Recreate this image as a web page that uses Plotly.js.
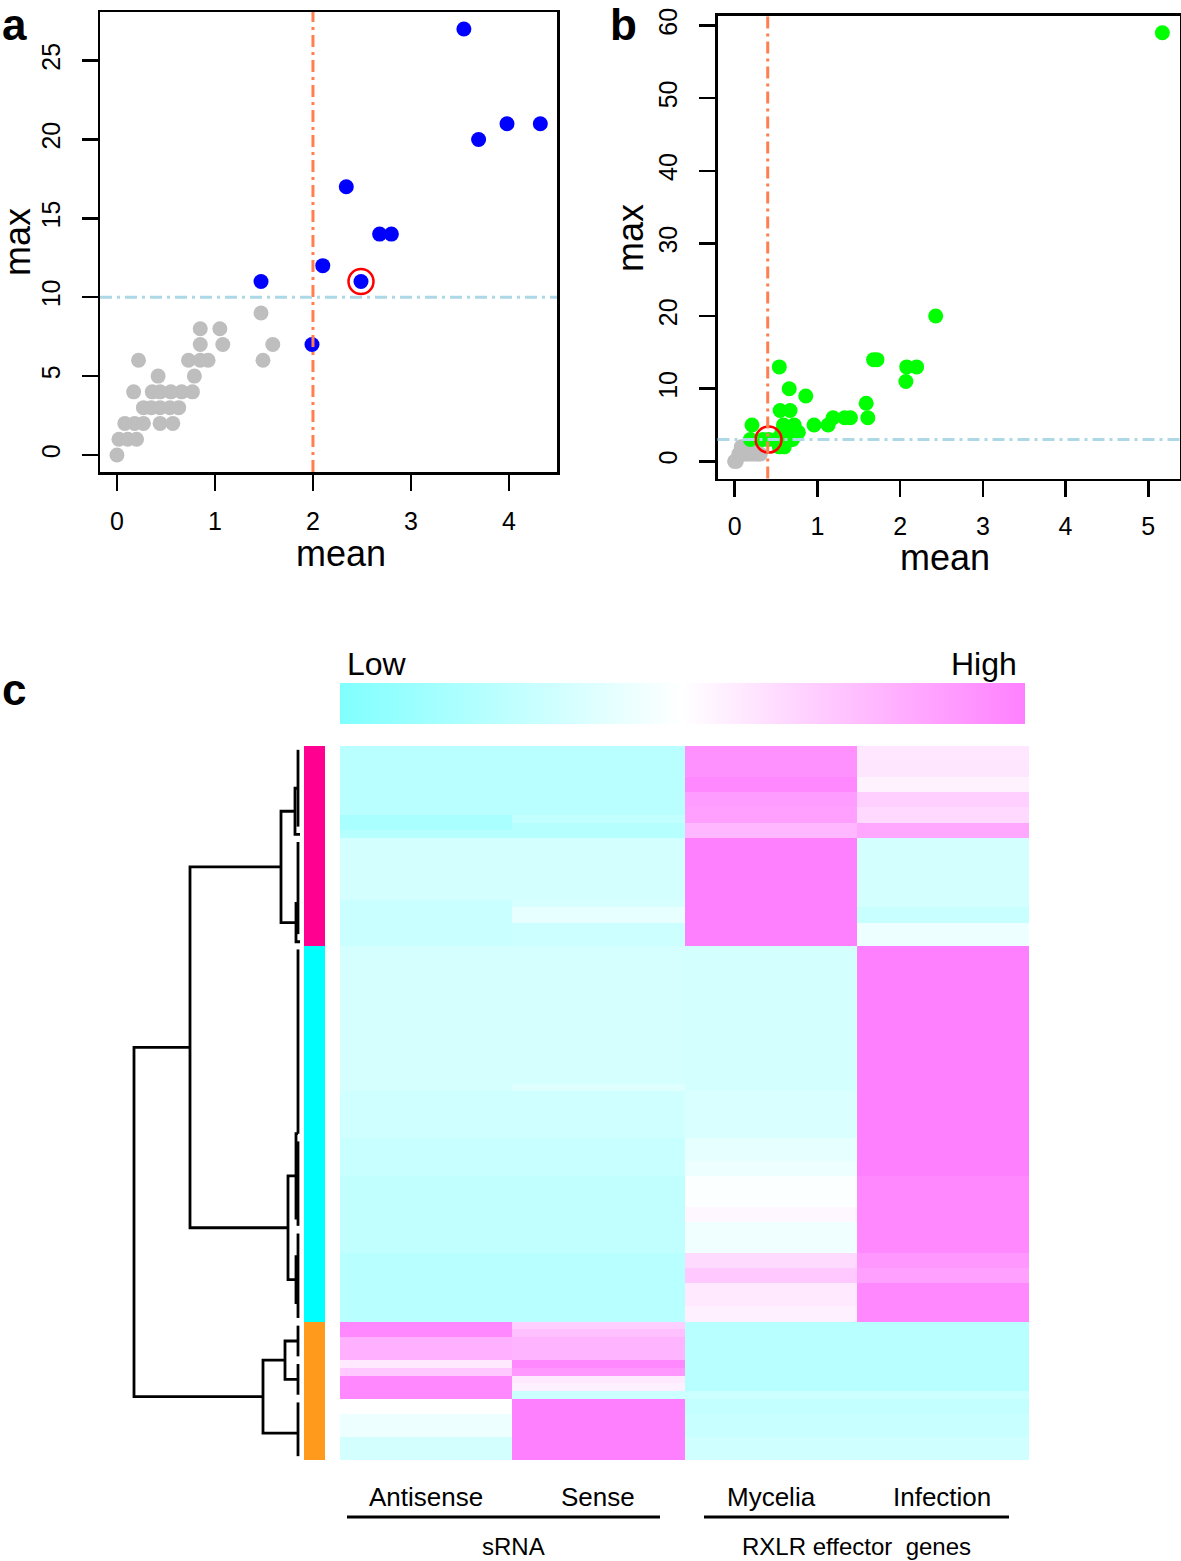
<!DOCTYPE html>
<html>
<head>
<meta charset="utf-8">
<script src="https://cdn.plot.ly/plotly-3.0.1.min.js"></script>
<style>
  body { margin: 0; background: #fff; }
  #chart { width: 1181px; height: 1561px; }
</style>
</head>
<body>
<div id="chart"></div>
<script>
// ---- panel a: sRNA loci (mean vs max) ----
var grayA_mean = [0, 0.02, 0.11, 0.20, 0.08, 0.18, 0.27, 0.44, 0.57, 0.27, 0.35, 0.44, 0.54, 0.63,
    0.17, 0.36, 0.44, 0.55, 0.66, 0.77, 0.42, 0.79, 0.22, 0.73, 0.85, 0.93, 1.49, 0.85, 1.08, 1.59,
    0.85, 1.05, 1.47];
var grayA_max = [0, 1, 1, 1, 2, 2, 2, 2, 2, 3, 3, 3, 3, 3,
    4, 4, 4, 4, 4, 4, 5, 5, 6, 6, 6, 6, 6, 7, 7, 7,
    8, 8, 9];
var blueA_mean = [1.47, 1.99, 2.10, 2.34, 2.49, 2.68, 2.80, 3.54, 3.69, 3.98, 4.32];
var blueA_max = [11, 7, 12, 17, 11, 14, 14, 27, 20, 21, 21];
var markA_mean = [2.49];
var markA_max = [11];
var cutA_mean = 2;
var cutA_max = 10;

// ---- panel b ----
var greenB_mean = [0.21, 0.19, 0.34, 0.41, 0.50, 0.54, 0.60, 0.61, 0.68, 0.57, 0.64, 0.70, 0.59, 0.72,
    0.77, 0.55, 0.67, 0.54, 0.66, 0.86, 0.96, 1.13, 1.19, 1.33, 1.40, 1.59, 1.61, 1.68, 1.72,
    2.07, 2.08, 2.20, 2.43, 5.17];
var greenB_max = [5, 3, 3, 3, 3, 2, 2, 3, 4, 4, 3, 3, 5, 5,
    4, 7, 7, 13, 10, 9, 5, 5, 6, 6, 6, 8, 6, 14, 14,
    11, 13, 13, 20, 59];
var grayB_mean = [0, 0.02, 0.05, 0.09, 0.13, 0.17, 0.22, 0.27, 0.31, 0.08, 0.13, 0.19, 0.25];
var grayB_max = [0, 0, 1, 1, 1, 1, 1, 1, 1, 2, 2, 2, 2];
var markB_mean = [0.41];
var markB_max = [3];
var cutB_mean = 0.4;
var cutB_max = 3;

// ---- panel c: heatmap (93 rows, top to bottom) ----
var columns = ['Antisense', 'Sense', 'Mycelia', 'Infection'];
var antisense = [
    -0.55, -0.55, -0.55, -0.55, -0.55, -0.55, -0.55, -0.55, -0.55, -0.68,
    -0.68, -0.58, -0.34, -0.34, -0.34, -0.34, -0.34, -0.34, -0.34, -0.34,
    -0.42, -0.42, -0.42, -0.42, -0.42, -0.42, -0.33, -0.33, -0.33, -0.33,
    -0.33, -0.33, -0.33, -0.33, -0.33, -0.33, -0.33, -0.33, -0.33, -0.33,
    -0.33, -0.33, -0.33, -0.33, -0.33, -0.37, -0.37, -0.37, -0.37, -0.37,
    -0.37, -0.43, -0.43, -0.43, -0.43, -0.43, -0.49, -0.49, -0.49, -0.49,
    -0.49, -0.49, -0.49, -0.49, -0.49, -0.49, -0.56, -0.56, -0.56, -0.56,
    -0.56, -0.56, -0.56, -0.56, -0.56, 0.94, 0.94, 0.62, 0.62, 0.62,
    0.17, 0.43, 0.94, 0.94, 0.94, 0.00, 0.00, -0.13, -0.13, -0.13,
    -0.34, -0.34, -0.34];
var sense = [
    -0.55, -0.55, -0.55, -0.55, -0.55, -0.55, -0.55, -0.55, -0.55, -0.48,
    -0.58, -0.58, -0.34, -0.34, -0.34, -0.34, -0.34, -0.34, -0.34, -0.34,
    -0.31, -0.18, -0.18, -0.40, -0.40, -0.40, -0.33, -0.33, -0.33, -0.33,
    -0.33, -0.33, -0.33, -0.33, -0.33, -0.33, -0.33, -0.33, -0.33, -0.33,
    -0.33, -0.33, -0.33, -0.33, -0.25, -0.37, -0.37, -0.37, -0.37, -0.37,
    -0.37, -0.43, -0.43, -0.43, -0.43, -0.43, -0.49, -0.49, -0.49, -0.49,
    -0.49, -0.49, -0.49, -0.49, -0.49, -0.49, -0.56, -0.56, -0.56, -0.56,
    -0.56, -0.56, -0.56, -0.56, -0.56, 0.37, 0.50, 0.59, 0.59, 0.59,
    0.94, 0.82, 0.17, 0.12, -0.40, 1.00, 1.00, 1.00, 1.00, 1.00,
    1.00, 1.00, 1.00];
var mycelia = [
    0.87, 0.87, 0.87, 0.87, 0.94, 0.94, 0.78, 0.78, 0.75, 0.75,
    0.56, 0.56, 1.00, 1.00, 1.00, 1.00, 1.00, 1.00, 1.00, 1.00,
    1.00, 1.00, 1.00, 1.00, 1.00, 1.00, -0.34, -0.34, -0.34, -0.34,
    -0.34, -0.34, -0.34, -0.34, -0.34, -0.34, -0.34, -0.34, -0.34, -0.34,
    -0.34, -0.34, -0.34, -0.34, -0.34, -0.29, -0.29, -0.29, -0.29, -0.29,
    -0.29, -0.20, -0.20, -0.20, -0.13, -0.13, -0.02, -0.02, -0.02, -0.02,
    0.06, 0.06, -0.12, -0.12, -0.12, -0.12, 0.29, 0.29, 0.43, 0.43,
    0.17, 0.17, 0.17, 0.12, 0.12, -0.56, -0.56, -0.56, -0.56, -0.56,
    -0.56, -0.56, -0.56, -0.56, -0.40, -0.47, -0.47, -0.43, -0.43, -0.43,
    -0.37, -0.37, -0.37];
var infection = [
    0.18, 0.18, 0.20, 0.20, 0.10, 0.10, 0.37, 0.37, 0.30, 0.30,
    0.69, 0.69, -0.34, -0.34, -0.34, -0.34, -0.34, -0.34, -0.34, -0.34,
    -0.34, -0.43, -0.43, -0.13, -0.13, -0.13, 1.00, 1.00, 1.00, 1.00,
    1.00, 1.00, 1.00, 1.00, 1.00, 1.00, 1.00, 1.00, 1.00, 1.00,
    1.00, 1.00, 1.00, 1.00, 1.00, 1.00, 1.00, 1.00, 1.00, 1.00,
    1.00, 1.00, 1.00, 1.00, 1.00, 1.00, 0.94, 0.94, 0.94, 0.94,
    0.94, 0.94, 0.94, 0.94, 0.94, 0.94, 0.82, 0.82, 0.75, 0.75,
    0.94, 0.94, 0.94, 0.94, 0.94, -0.56, -0.56, -0.56, -0.56, -0.56,
    -0.56, -0.56, -0.56, -0.56, -0.40, -0.47, -0.47, -0.43, -0.43, -0.43,
    -0.37, -0.37, -0.37];

// row clusters (pink / cyan / orange), sizes in rows
var clusterSizes = [26, 49, 18];
var clusterColors = ['#FF0090', '#00FFFF', '#FF9A1C'];

// dendrogram: leaf groups [firstRow, lastRow] and merges [y1, y2, height, childH1, childH2]
var leafH = 0.2;
var leafGroups = [[0, 10], [12, 24], [26, 50], [51, 62], [63, 74], [75, 79], [80, 84], [85, 92]];
var dendroMerges = [
    [5, 11, 0.5, leafH, 0],
    [20, 25, 0.4, leafH, 0],
    [8, 22.5, 1.9, 0.5, 0.4],
    [50, 61, 0.4, leafH, leafH],
    [66, 72, 0.4, leafH, leafH],
    [55.5, 69, 1.2, 0.4, 0.4],
    [15.25, 62.25, 11, 1.9, 1.2],
    [77, 82, 1.5, leafH, leafH],
    [79.5, 89, 3.7, 1.5, leafH],
    [38.75, 84.25, 16.6, 11, 3.7]
];

var W = 1181, H = 1561;
function px(x) { return x / W; }
function py(y) { return 1 - y / H; }
var FONT = 'Liberation Sans, Arial, Helvetica, sans-serif';

// heatmap matrix and side strip
var zRows = antisense.map(function (v, i) { return [v, sense[i], mycelia[i], infection[i]]; });
var clusterRows = [];
clusterSizes.forEach(function (n, k) {
    for (var i = 0; i < n; i++) clusterRows.push([k]);
});

// dendrogram polyline
var dx = [], dy = [];
leafGroups.forEach(function (g) {
    dx.push(leafH, leafH, null);
    dy.push(g[0], g[1], null);
});
dendroMerges.forEach(function (m) {
    dx.push(m[3], m[2], m[2], m[4], null);
    dy.push(m[0], m[0], m[1], m[1], null);
});

var dotSize = 15;
var traces = [
    { x: grayA_mean, y: grayA_max, type: 'scatter', mode: 'markers', xaxis: 'x', yaxis: 'y',
      marker: { color: '#BEBEBE', size: dotSize }, hoverinfo: 'skip' },
    { x: blueA_mean, y: blueA_max, type: 'scatter', mode: 'markers', xaxis: 'x', yaxis: 'y',
      marker: { color: '#0000FF', size: dotSize }, hoverinfo: 'skip' },
    { x: markA_mean, y: markA_max, type: 'scatter', mode: 'markers', xaxis: 'x', yaxis: 'y',
      marker: { symbol: 'circle-open', color: '#FF0000', size: 25, line: { width: 2.5 } }, hoverinfo: 'skip' },

    { x: grayB_mean, y: grayB_max, type: 'scatter', mode: 'markers', xaxis: 'x2', yaxis: 'y2',
      marker: { color: '#BEBEBE', size: dotSize }, hoverinfo: 'skip' },
    { x: greenB_mean, y: greenB_max, type: 'scatter', mode: 'markers', xaxis: 'x2', yaxis: 'y2',
      marker: { color: '#00FF00', size: dotSize }, hoverinfo: 'skip' },
    { x: markB_mean, y: markB_max, type: 'scatter', mode: 'markers', xaxis: 'x2', yaxis: 'y2',
      marker: { symbol: 'circle-open', color: '#FF0000', size: 26, line: { width: 2.5 } }, hoverinfo: 'skip' },

    { z: zRows, type: 'heatmap', xaxis: 'x3', yaxis: 'y3', zmin: -1, zmax: 1,
      colorscale: [[0, '#80FFFF'], [0.5, '#FFFFFF'], [1, '#FF80FF']],
      showscale: true, hoverinfo: 'skip',
      colorbar: { orientation: 'h', x: px(340), xanchor: 'left', y: py(683), yanchor: 'top',
                  lenmode: 'pixels', len: 685, thicknessmode: 'pixels', thickness: 41,
                  xpad: 0, ypad: 0, outlinewidth: 0, ticks: '', showticklabels: false } },
    { z: clusterRows, type: 'heatmap', xaxis: 'x4', yaxis: 'y3', zmin: 0, zmax: 2, showscale: false,
      colorscale: [[0, clusterColors[0]], [0.333, clusterColors[0]], [0.334, clusterColors[1]],
                   [0.666, clusterColors[1]], [0.667, clusterColors[2]], [1, clusterColors[2]]],
      hoverinfo: 'skip' },
    { x: dx, y: dy, type: 'scatter', mode: 'lines', xaxis: 'x5', yaxis: 'y3',
      line: { color: '#000', width: 2.8 }, hoverinfo: 'skip' }
];

function scatterAxis(extra) {
    var base = {
        ticks: 'outside', ticklen: 16, tickwidth: 2.5, tickcolor: '#000',
        showline: true, mirror: true, linewidth: 2.5, linecolor: '#000',
        showgrid: false, zeroline: false, ticklabelstandoff: 12,
        tickfont: { family: FONT, size: 25, color: '#000' }
    };
    for (var k in extra) base[k] = extra[k];
    return base;
}
function hidden(extra) {
    var base = { visible: false, showgrid: false, zeroline: false, fixedrange: true };
    for (var k in extra) base[k] = extra[k];
    return base;
}

var dashed = '12px,5px,3px,5px';
var shapes = [
    { type: 'line', xref: 'x', yref: 'y domain', x0: cutA_mean, x1: cutA_mean, y0: 0, y1: 1, layer: 'above',
      line: { color: '#FF7F50', width: 3, dash: dashed } },
    { type: 'line', xref: 'x domain', yref: 'y', x0: 0, x1: 1, y0: cutA_max, y1: cutA_max, layer: 'above',
      line: { color: '#ADD8E6', width: 3, dash: dashed } },
    { type: 'line', xref: 'x2', yref: 'y2 domain', x0: cutB_mean, x1: cutB_mean, y0: 0, y1: 1, layer: 'above',
      line: { color: '#FF7F50', width: 3, dash: dashed } },
    { type: 'line', xref: 'x2 domain', yref: 'y2', x0: 0, x1: 1, y0: cutB_max, y1: cutB_max, layer: 'above',
      line: { color: '#ADD8E6', width: 3, dash: dashed } },
    // group underlines below the heatmap
    { type: 'line', xref: 'paper', yref: 'paper', x0: px(347), x1: px(660), y0: py(1517), y1: py(1517),
      line: { color: '#000', width: 3 } },
    { type: 'line', xref: 'paper', yref: 'paper', x0: px(704), x1: px(1009), y0: py(1517), y1: py(1517),
      line: { color: '#000', width: 3 } }
];

function note(text, x, y, size, extra) {
    var a = { text: text, xref: 'paper', yref: 'paper', x: px(x), y: py(y), showarrow: false,
              xanchor: 'center', yanchor: 'middle', font: { family: FONT, size: size, color: '#000' } };
    for (var k in extra) a[k] = extra[k];
    return a;
}

var annotations = [
    note('<b>a</b>', 0, 25, 44, { xanchor: 'left' }),
    note('<b>b</b>', 608, 24, 44, { xanchor: 'left' }),
    note('<b>c</b>', 0, 689, 44, { xanchor: 'left' }),
    note('mean', 341, 554, 36),
    note('max', 17, 242, 36, { textangle: -90 }),
    note('mean', 945, 557, 36),
    note('max', 630, 238, 36, { textangle: -90 }),
    note('Low', 345, 664, 32, { xanchor: 'left' }),
    note('High', 1019, 664, 32, { xanchor: 'right' }),
    note(columns[0], 426, 1497, 26),
    note(columns[1], 598, 1497, 26),
    note(columns[2], 771, 1497, 26),
    note(columns[3], 942, 1497, 26),
    note('sRNA', 513, 1546, 24),
    note('RXLR effector&nbsp;&nbsp;genes', 856, 1546, 24)
];

var layout = {
    width: W, height: H,
    margin: { l: 0, r: 0, t: 0, b: 0 },
    paper_bgcolor: '#fff', plot_bgcolor: 'rgba(0,0,0,0)',
    showlegend: false,
    font: { family: FONT, color: '#000' },
    xaxis: scatterAxis({ domain: [px(100), px(557)], range: [-0.173, 4.49], tickvals: [0, 1, 2, 3, 4],
                         ticklabelstandoff: 9, anchor: 'y' }),
    yaxis: scatterAxis({ domain: [py(472), py(12)], range: [-1.08, 28.08], tickvals: [0, 5, 10, 15, 20, 25],
                         tickangle: -90, anchor: 'x' }),
    xaxis2: scatterAxis({ domain: [px(717.5), px(1179.5)], range: [-0.207, 5.377], tickvals: [0, 1, 2, 3, 4, 5],
                          ticklabelstandoff: 8, anchor: 'y2' }),
    yaxis2: scatterAxis({ domain: [py(478.5), py(15.6)], range: [-2.36, 61.36], tickvals: [0, 10, 20, 30, 40, 50, 60],
                          tickangle: -90, anchor: 'x2' }),
    xaxis3: hidden({ domain: [px(340), px(1029)], range: [-0.5, 3.5], anchor: 'y3' }),
    yaxis3: hidden({ domain: [py(1460), py(746)], range: [92.5, -0.5], anchor: 'x3' }),
    xaxis4: hidden({ domain: [px(304), px(325)], range: [-0.5, 0.5], anchor: 'y3' }),
    xaxis5: hidden({ domain: [px(125), px(300)], range: [17.5, 0], anchor: 'y3' }),
    shapes: shapes,
    annotations: annotations
};

Plotly.newPlot('chart', traces, layout, { staticPlot: true });
</script>
</body>
</html>
